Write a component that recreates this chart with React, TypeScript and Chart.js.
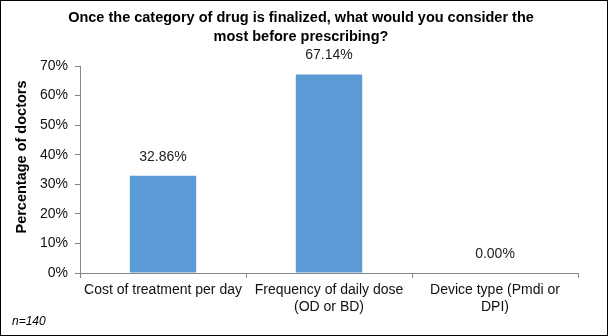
import React, { useEffect, useRef } from 'react';
import { Chart, registerables } from 'chart.js';

Chart.register(...registerables);

const categories: string[][] = [
  ['Cost of treatment per day'],
  ['Frequency of daily dose', '(OD or BD)'],
  ['Device type (Pmdi or', 'DPI)'],
];
const values: number[] = [32.86, 67.14, 0.0];
const yMin = 0;
const yMax = 70;
const yStep = 10;
const titleLines: string[] = [
  'Once the category of drug is finalized, what would you consider the',
  'most before prescribing?',
];
const yTitle = 'Percentage of doctors';
const note = 'n=140';

const FONT = "'Liberation Sans', Arial, sans-serif";

const overlay = {
  id: 'overlay',
  afterDraw(chart: any) {
    const ctx = chart.ctx as CanvasRenderingContext2D;
    ctx.save();
    // border
    ctx.strokeStyle = '#000';
    ctx.lineWidth = 1;
    ctx.strokeRect(0.5, 0.5, chart.width - 1, chart.height - 1);
    // title
    ctx.fillStyle = '#000';
    ctx.font = `bold 14.5px ${FONT}`;
    ctx.textAlign = 'center';
    ctx.textBaseline = 'middle';
    titleLines.forEach((t, i) => ctx.fillText(t, 301, 18 + i * 19));
    // y title
    ctx.save();
    ctx.translate(22, 157);
    ctx.rotate(-Math.PI / 2);
    ctx.fillText(yTitle, 0, 0);
    ctx.restore();
    // data labels
    ctx.font = `14px ${FONT}`;
    ctx.fillStyle = '#222';
    const meta = chart.getDatasetMeta(0);
    meta.data.forEach((el: any, i: number) => {
      ctx.fillText(values[i].toFixed(2) + '%', el.x, el.y - 19);
    });
    // note
    ctx.font = `italic 12px ${FONT}`;
    ctx.textAlign = 'left';
    ctx.fillStyle = '#000';
    ctx.fillText(note, 12, 322);
    ctx.restore();
  },
};

export default function App() {
  const ref = useRef<HTMLCanvasElement | null>(null);
  useEffect(() => {
    if (!ref.current) return;
    const chart = new Chart(ref.current, {
      type: 'bar',
      data: {
        labels: categories,
        datasets: [
          {
            data: values,
            backgroundColor: '#5B9BD5',
            barPercentage: 0.4,
            categoryPercentage: 1,
          },
        ],
      },
      options: {
        animation: false,
        responsive: false,
        devicePixelRatio: 1,
        layout: { padding: { top: 66, right: 30, left: 0, bottom: 0 } },
        plugins: {
          legend: { display: false },
          title: { display: false },
          tooltip: { enabled: false },
        },
        scales: {
          x: {
            offset: true,
            grid: {
              display: true,
              drawOnChartArea: false,
              offset: true,
              tickLength: 5,
              color: '#868686',
            },
            border: { color: '#868686' },
            ticks: {
              autoSkip: false,
              maxRotation: 0,
              minRotation: 0,
              padding: 4,
              color: '#111',
              font: { family: FONT, size: 14, lineHeight: 1.18 },
            },
            afterFit(scale: any) {
              scale.height = 63;
            },
          },
          y: {
            min: yMin,
            max: yMax,
            ticks: {
              stepSize: yStep,
              padding: 7,
              color: '#111',
              font: { family: FONT, size: 14 },
              callback: (v: any) => v + '%',
            },
            grid: {
              display: true,
              drawOnChartArea: false,
              tickLength: 5,
              color: '#868686',
            },
            border: { color: '#868686' },
            afterFit(scale: any) {
              scale.width = 80;
            },
          },
        },
      },
      plugins: [overlay],
    });
    return () => chart.destroy();
  }, []);
  return (
    <div style={{ position: 'absolute', left: 0, top: 0, width: 608, height: 336, background: '#fff' }}>
      <canvas ref={ref} width={608} height={336} />
    </div>
  );
}
